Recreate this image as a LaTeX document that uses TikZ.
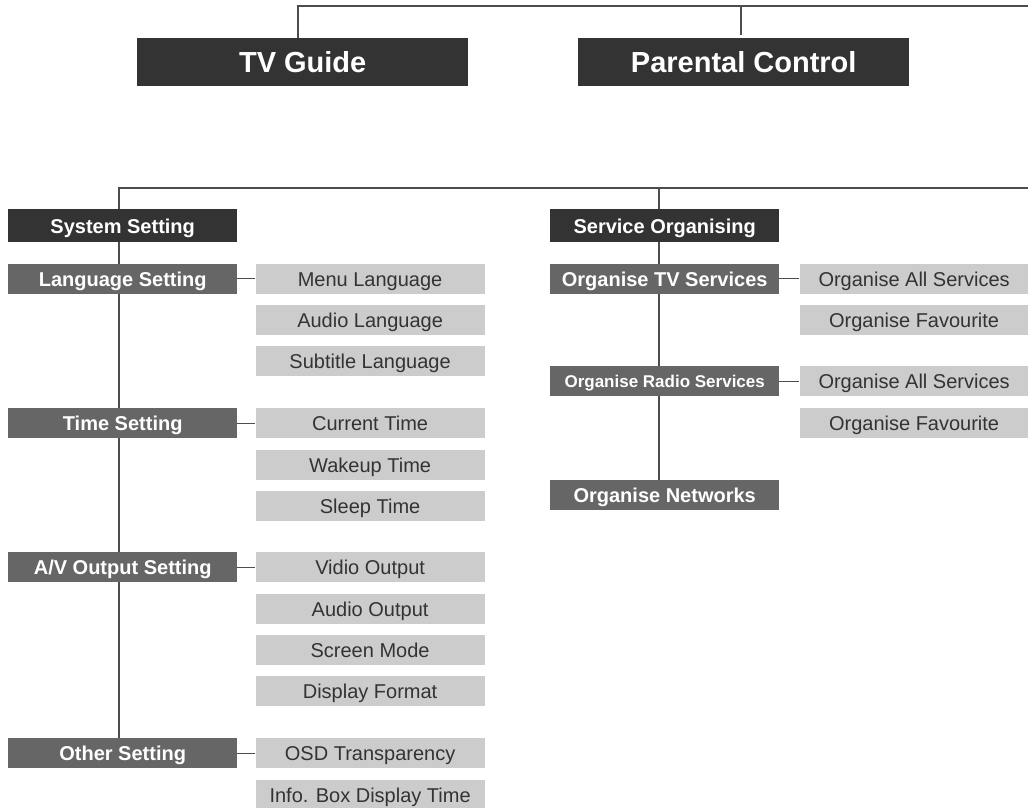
\documentclass[tikz,border=0pt]{standalone}
\usepackage{fontspec}
\setmainfont{Liberation Sans}
\usetikzlibrary{positioning,backgrounds}
\definecolor{menudark}{HTML}{333333}
\definecolor{menumid}{HTML}{666666}
\definecolor{menulight}{HTML}{CCCCCC}
\definecolor{menuline}{HTML}{4D4D4D}

\begin{document}
\begin{tikzpicture}[
    x=1pt, y=-1pt,
    node distance=11pt and 18pt,
    topmenu/.style={fill=menudark, text=white, minimum width=331pt, minimum height=48pt, inner sep=0pt, text height=21pt, text depth=0pt, font=\fontsize{29}{34}\selectfont\bfseries},
    mainmenu/.style={fill=menudark, text=white, minimum width=229pt, minimum height=33pt, inner sep=0pt, text height=15pt, text depth=0pt, font=\fontsize{20}{24}\selectfont\bfseries},
    submenu/.style={fill=menumid, text=white, minimum width=229pt, minimum height=30pt, inner sep=0pt, text height=15pt, text depth=0pt, font=\fontsize{20}{24}\selectfont\bfseries},
    item/.style={fill=menulight, text=menudark, minimum width=229pt, minimum height=30pt, inner sep=0pt, text height=15pt, text depth=0pt, font=\fontsize{20}{24}\selectfont},
    link/.style={draw=menuline, line width=1.3pt}
]
\useasboundingbox (0,0) rectangle (1028,808);

% top level
\node[topmenu, anchor=north west] (tvguide) at (137,38) {TV Guide};
\node[topmenu, anchor=north west] (parental) at (578,38) {Parental Control};
\coordinate (tvtop) at (298,6);
\coordinate (pctop) at (741,6);
\coordinate (pcstub) at (741,35);
\coordinate (topend) at (1028,6);

% system setting
\node[mainmenu, anchor=north west] (system) at (8,209) {System Setting};
\node[submenu, below=21pt of system] (language) {Language Setting};
\node[item, right=of language] (menulang) {Menu Language};
\node[item, below=of menulang] (audiolang) {Audio Language};
\node[item, below=of audiolang] (sublang) {Subtitle Language};

\node[submenu, anchor=north west] (time) at (8,408) {Time Setting};
\node[item, right=of time] (curtime) {Current Time};
\node[item, below=of curtime] (waketime) {Wakeup Time};
\node[item, below=of waketime] (sleeptime) {Sleep Time};

\node[submenu, anchor=north west] (avout) at (8,552) {A/V Output Setting};
\node[item, right=of avout] (vidout) {Vidio Output};
\node[item, below=of vidout] (audout) {Audio Output};
\node[item, below=of audout] (screen) {Screen Mode};
\node[item, below=of screen] (dispfmt) {Display Format};

\node[submenu, anchor=north west] (other) at (8,738) {Other Setting};
\node[item, right=of other] (osd) {OSD Transparency};
\node[item, below=of osd] (infobox) {Info. Box Display Time};

% service organising
\node[mainmenu, anchor=north west] (service) at (550,209) {Service Organising};
\node[submenu, below=21pt of service] (tvserv) {Organise TV Services};
\node[item, right=20pt of tvserv] (tvall) {Organise All Services};
\node[item, below=of tvall] (tvfav) {Organise Favourite};

\node[submenu, anchor=north west, text height=13pt, font=\fontsize{17}{20}\selectfont\bfseries] (radio) at (550,366) {Organise Radio Services};
\node[item, right=20pt of radio] (radioall) {Organise All Services};
\node[item, below=of radioall] (radiofav) {Organise Favourite};

\node[submenu, anchor=north west] (networks) at (550,480) {Organise Networks};

\coordinate (midbar) at (119,188);
\coordinate (servbar) at (659,188);
\coordinate (midend) at (1028,188);

\begin{scope}[on background layer]
\draw[link] (tvtop |- tvguide.north) -- (tvtop) -- (topend);
\draw[link] (pctop) -- (pcstub);
\draw[link] (midend) -- (midbar) -- (midbar |- other.north);
\draw[link] (servbar) -- (servbar |- networks.north);
\end{scope}

\draw[link] (language) -- (menulang);
\draw[link] (time) -- (curtime);
\draw[link] (avout) -- (vidout);
\draw[link] (other) -- (osd);
\draw[link] (tvserv) -- (tvall);
\draw[link] (radio) -- (radioall);
\end{tikzpicture}
\end{document}
